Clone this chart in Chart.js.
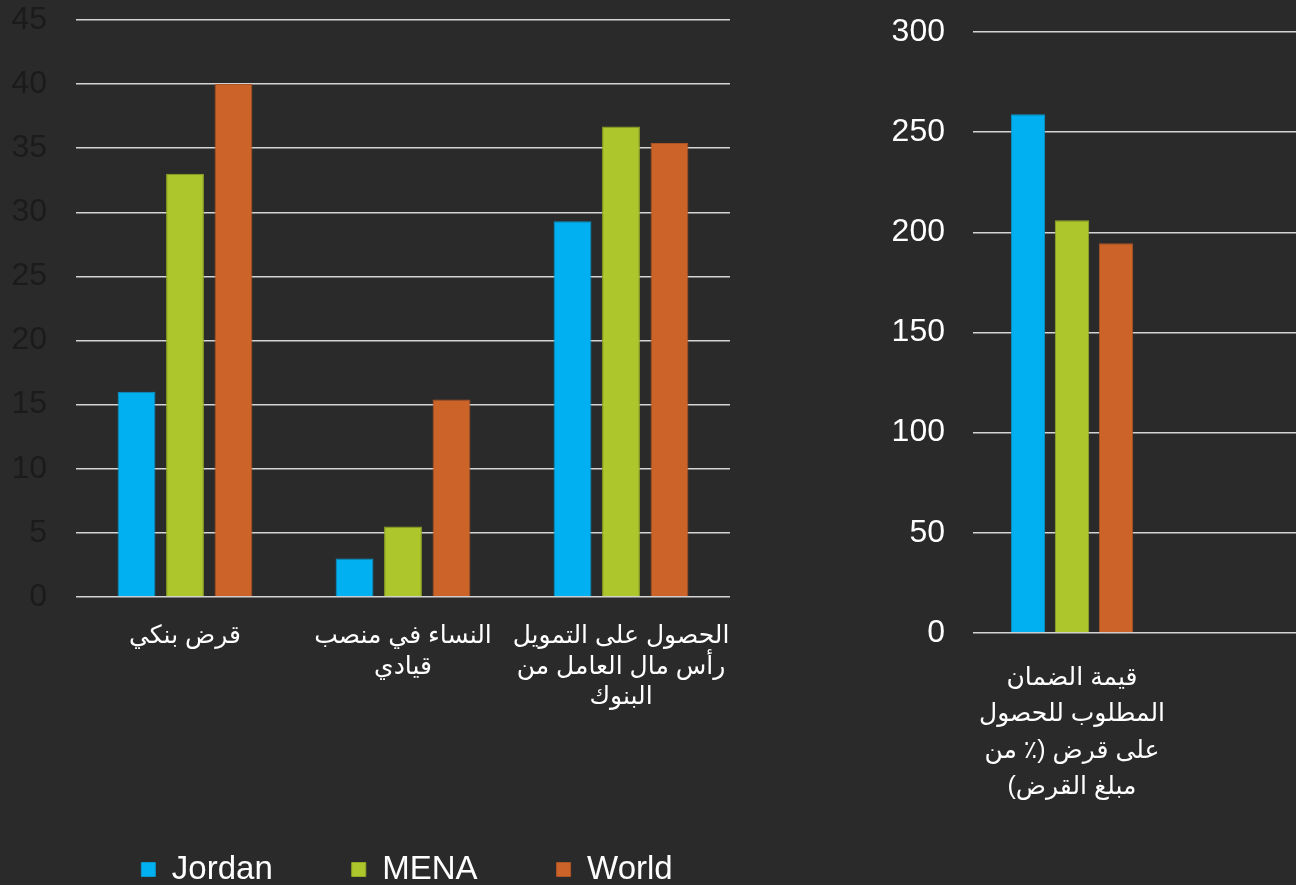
<!DOCTYPE html>
<html lang="ar">
<head>
  <meta charset="UTF-8">
  <title>Jordan vs MENA vs World</title>
  <script src="https://cdn.jsdelivr.net/npm/chart.js"></script>
  <style>
    html, body {
      margin: 0;
      padding: 0;
      background: #2b2a2b;
      width: 1296px;
      height: 885px;
      overflow: hidden;
      position: relative;
    }
    #leftBox { position: absolute; left: 0; top: 0; width: 740px; height: 896px; }
    #rightBox { position: absolute; left: 860px; top: 0; width: 509px; height: 885px; }
  </style>
</head>
<body>
  <div id="leftBox"><canvas id="leftChart" dir="rtl"></canvas></div>
  <div id="rightBox"><canvas id="rightChart" dir="rtl"></canvas></div>
  <script>
    const seriesNames = ['Jordan', 'MENA', 'World'];
    const seriesColors = ['#00b0f0', '#adc62b', '#cc6328'];
    const seriesEdges = ['#0897cc', '#93a925', '#ad5424'];

    // left panel
    const leftLabels = [
      ['قرض بنكي'],
      ['النساء في منصب', 'قيادي'],
      ['الحصول على التمويل', 'رأس مال العامل من', 'البنوك']
    ];
    const leftJordan = [16, 3, 29.3];
    const leftMena = [33, 5.5, 36.7];
    const leftWorld = [40, 15.4, 35.4];

    // right panel (second slot left empty, as in the cropped original)
    const rightLabels = [
      ['قيمة الضمان', 'المطلوب للحصول', 'على قرض (٪ من', 'مبلغ القرض)'],
      ''
    ];
    const rightJordan = [259, null];
    const rightMena = [206, null];
    const rightWorld = [194.5, null];

    const fontFam = "'Liberation Sans', Arial, 'DejaVu Sans', sans-serif";
    const gridCol = '#d4d4d4';

    function makeSets(a, b, c) {
      return [a, b, c].map((d, i) => ({
        label: seriesNames[i],
        data: d,
        backgroundColor: seriesColors[i],
        borderColor: seriesEdges[i],
        borderWidth: 1,
        categoryPercentage: 0.667,
        barPercentage: 0.78
      }));
    }

    // gaps between axis and labels are done with invisible tick marks,
    // tick padding would also push the plot area in
    function catAxis(size, lh, gap, height) {
      return {
        grid: { drawOnChartArea: false, drawTicks: true, tickLength: gap, color: 'transparent', tickColor: 'transparent' },
        border: { display: false },
        ticks: {
          color: '#ffffff',
          font: { family: fontFam, size: size, lineHeight: lh },
          padding: 0,
          maxRotation: 0,
          autoSkip: false
        },
        afterFit(scale) { scale.height = height; }
      };
    }
    function valAxis(max, step, col, gap, width) {
      return {
        min: 0,
        max: max,
        grid: { color: gridCol, lineWidth: 1.5, drawTicks: true, tickLength: gap, tickColor: 'transparent' },
        border: { display: false },
        ticks: {
          stepSize: step,
          color: col,
          font: { family: fontFam, size: 32 },
          padding: 0
        },
        afterFit(scale) { scale.width = width; }
      };
    }

    // legend in the original sits a bit right of the canvas centre
    const legendShift = {
      id: 'legendShift',
      afterLayout(chart) {
        chart.legend.left += 42;
        chart.legend.right += 42;
      }
    };

    new Chart(document.getElementById('leftChart'), {
      type: 'bar',
      data: { labels: leftLabels, datasets: makeSets(leftJordan, leftMena, leftWorld) },
      options: {
        responsive: true,
        maintainAspectRatio: false,
        animation: false,
        layout: { padding: { top: 20, right: 10, left: 0, bottom: 0 } },
        plugins: {
          tooltip: { enabled: false },
          legend: {
            position: 'bottom',
            labels: {
              color: '#ffffff',
              font: { family: fontFam, size: 33 },
              boxWidth: 14,
              boxHeight: 14,
              padding: 79
            }
          }
        },
        scales: {
          x: catAxis(25, 1.22, 24, 177),
          y: valAxis(45, 5, '#1c1b1b', 29, 76)
        }
      },
      plugins: [legendShift]
    });

    new Chart(document.getElementById('rightChart'), {
      type: 'bar',
      data: { labels: rightLabels, datasets: makeSets(rightJordan, rightMena, rightWorld) },
      options: {
        responsive: true,
        maintainAspectRatio: false,
        animation: false,
        layout: { padding: { top: 32, right: 0, left: 0, bottom: 0 } },
        plugins: {
          tooltip: { enabled: false },
          legend: { display: false }
        },
        scales: {
          x: catAxis(25, 1.45, 27, 252),
          y: valAxis(300, 50, '#ffffff', 28, 113)
        }
      }
    });
  </script>
</body>
</html>
